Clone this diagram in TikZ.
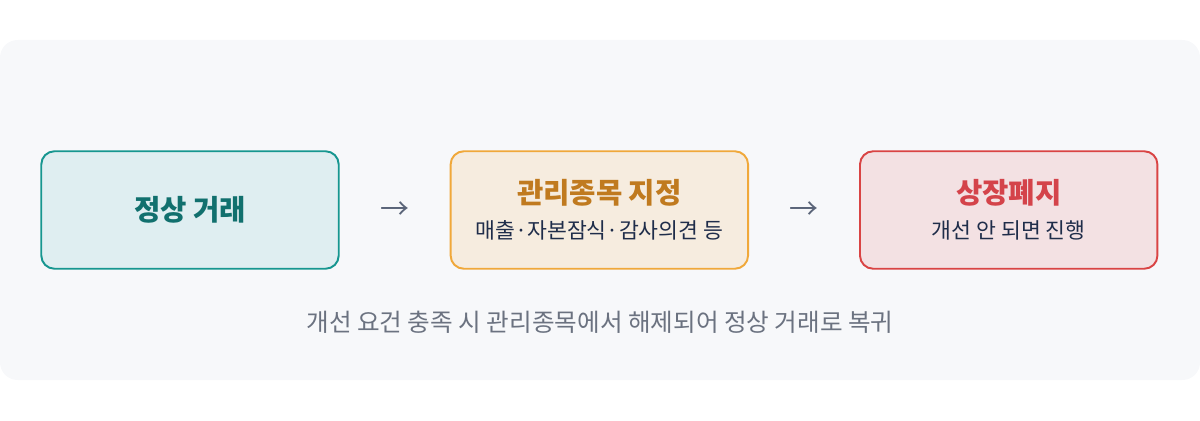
\documentclass[tikz,border=0pt]{standalone}
\usepackage{fontspec}
\usepackage{tikz}
\usetikzlibrary{positioning,calc}
\newfontfamily\kr{Noto Sans CJK KR}
\definecolor{panelbg}{HTML}{F7F8FA}
\definecolor{tealline}{HTML}{169690}
\definecolor{tealfill}{HTML}{DFEEF1}
\definecolor{tealtext}{HTML}{11706E}
\definecolor{orline}{HTML}{F0A83A}
\definecolor{orfill}{HTML}{F6ECDF}
\definecolor{ortext}{HTML}{C07A1F}
\definecolor{redline}{HTML}{D94444}
\definecolor{redfill}{HTML}{F3E1E3}
\definecolor{redtext}{HTML}{D4434A}
\definecolor{subtext}{HTML}{1F2D4A}
\definecolor{notetext}{HTML}{6B7280}
\definecolor{arrowtext}{HTML}{5A6478}
\newcommand\headtxt{\kr\bfseries\fontsize{16.3}{19}\selectfont}
\newcommand\subtxt{\kr\fontsize{12.3}{15}\selectfont}
\tikzset{
  stage/.style={rounded corners=7.5pt, line width=1.1pt, minimum width=5.95cm, minimum height=2.35cm, align=center, inner sep=0pt},
  arr/.style={font=\kr\fontsize{16.5}{18}\selectfont, text=arrowtext}
}
\begin{document}
\begin{tikzpicture}[x=0.02cm, y=0.02cm]
    \useasboundingbox (0,0) rectangle (1200,420);
    \fill[panelbg, rounded corners=10pt] (0,40) rectangle (1200,380);
    \node[stage, draw=tealline, fill=tealfill] (normal) at (190,210)
      {\textcolor{tealtext}{\headtxt 정상 거래}};
    \node[stage, draw=orline, fill=orfill, right=2.2cm of normal] (watch)
      {\textcolor{ortext}{\headtxt 관리종목 지정}\\[8pt]
       \textcolor{subtext}{\subtxt 매출·자본잠식·감사의견 등}};
    \node[stage, draw=redline, fill=redfill, right=2.2cm of watch] (delist)
      {\textcolor{redtext}{\headtxt 상장폐지}\\[8pt]
       \textcolor{subtext}{\subtxt 개선 안 되면 진행}};
    \node[arr] (a1) at ($(normal.east)!0.5!(watch.west)+(0,-1)$) {→};
    \node[arr] (a2) at ($(watch.east)!0.5!(delist.west)+(0,-1)$) {→};
    \node[font=\kr\fontsize{14}{17}\selectfont, text=notetext] (note) at (600,98)
      {개선 요건 충족 시 관리종목에서 해제되어 정상 거래로 복귀};
\end{tikzpicture}
\end{document}
